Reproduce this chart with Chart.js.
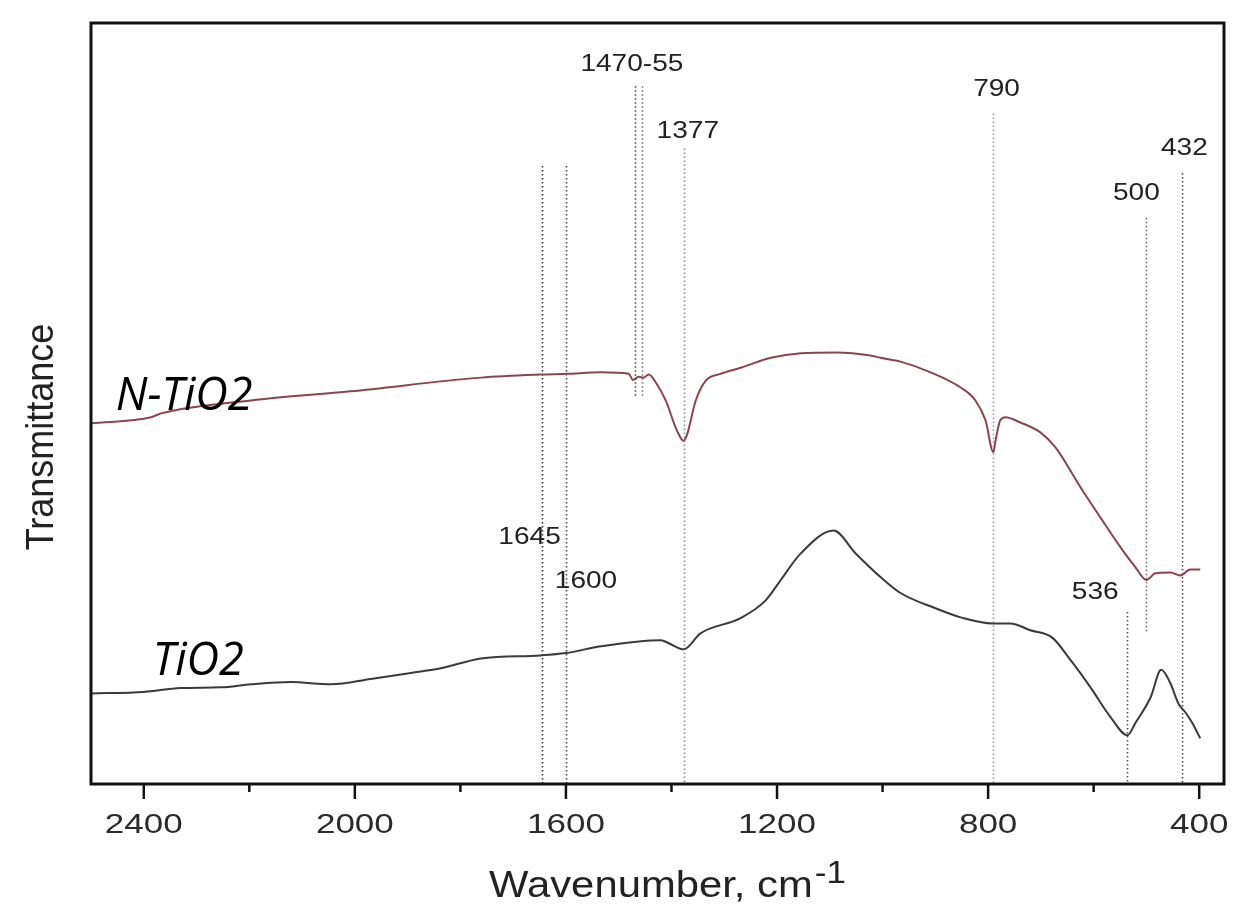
<!DOCTYPE html>
<html>
<head>
<meta charset="utf-8">
<title>FTIR spectra TiO2 / N-TiO2</title>
<script src="https://cdn.jsdelivr.net/npm/chart.js@4.4.1/dist/chart.umd.min.js"></script>
<style>
  html, body { margin: 0; padding: 0; background: #fff; }
  canvas { display: block; }
</style>
</head>
<body>
<canvas id="ftirChart" width="1233" height="906"></canvas>
<script>
//SETUP
// N-TiO2 spectrum (wavenumber, transmittance a.u.)
const nWave = [2500, 2386, 2367, 2197, 2008, 1761, 1648, 1598, 1534, 1481,
  1473, 1462, 1453, 1443, 1430, 1411, 1390, 1377, 1371, 1354,
  1335, 1307, 1269, 1212, 1155, 1089, 1023, 1004, 966, 909,
  852, 824, 805, 790, 786, 777, 767, 739, 701, 672,
  625, 587, 549, 521, 500, 483, 455, 436, 417, 398];
const nValues = [47.4, 48.2, 48.7, 50.4, 51.6, 53.4, 53.8, 53.9, 54.1, 53.9,
  53.1, 53.5, 53.4, 53.8, 52.8, 50.4, 46.5, 45.1, 45.8, 50.4,
  53.0, 53.9, 54.7, 56.0, 56.6, 56.7, 56.3, 56.0, 55.5, 54.1,
  52.1, 50.4, 47.8, 43.6, 45.1, 47.8, 48.2, 47.5, 46.2, 44.2,
  39.0, 35.0, 31.1, 28.5, 26.8, 27.7, 27.8, 27.4, 28.2, 28.2];

// TiO2 spectrum
const tWave = [2500, 2400, 2330, 2254, 2197, 2121, 2045, 1970, 1894, 1837,
  1761, 1648, 1600, 1534, 1420, 1405, 1377, 1345, 1269, 1222,
  1193, 1155, 1093, 1051, 1004, 966, 900, 852, 792, 758,
  720, 678, 644, 606, 568, 536, 521, 492, 472, 455,
  439, 426, 413, 398];
const tValues = [11.9, 12.1, 12.6, 12.7, 13.1, 13.4, 13.1, 13.8, 14.6, 15.2,
  16.5, 16.9, 17.2, 18.1, 18.9, 18.5, 17.7, 19.8, 21.8, 24.1,
  26.8, 30.3, 33.3, 30.3, 27.2, 25.1, 23.1, 21.9, 21.1, 21.1,
  20.2, 19.2, 16.3, 12.7, 8.8, 6.4, 8.0, 11.4, 15.0, 13.3,
  10.5, 9.4, 8.0, 6.0];

// axis ticks
const majorTicks = [2400, 2000, 1600, 1200, 800, 400];
const minorTicks = [2200, 1800, 1400, 1000, 600];

// band markers (dotted verticals)
const peakWave = [1645, 1600, 1470, 1455, 1377, 790, 500, 432, 536];
const peakTop = [81.2, 81.2, 91.7, 91.7, 83.5, 88.1, 74.4, 80.3, 22.6];
const peakBottom = [0, 0, 50.7, 51.0, 0, 0, 19.9, 0, 0];

// band labels
const labelText = ['1470-55', '1377', '790', '432', '500', '1645', '1600', '536'];
const labelWave = [1475, 1369, 784, 428, 519, 1669, 1562, 597];
const labelLevel = [94.5, 85.8, 91.3, 83.5, 77.6, 32.4, 26.6, 25.2];
//SETUP

const peakShade = ['#333', '#444', '#444', '#777', '#888', '#999', '#666', '#444', '#555'];
const SANS = '"Liberation Sans", Arial, sans-serif';

function toPoints(xs, ys) {
  return xs.map((w, i) => ({ x: w, y: ys[i] }));
}

// text squeezed/stretched horizontally
function wideText(ctx, text, x, y, sx, align) {
  ctx.save();
  ctx.translate(x, y);
  ctx.scale(sx, 1);
  ctx.textAlign = align || 'center';
  ctx.fillText(text, 0, 0);
  ctx.restore();
}

// dotted band markers under the curves
const peakLines = {
  id: 'peakLines',
  beforeDatasetsDraw(chart) {
    const ctx = chart.ctx, xs = chart.scales.x, ys = chart.scales.y;
    ctx.save();
    ctx.lineWidth = 1.6;
    ctx.setLineDash([1.5, 2.5]);
    peakWave.forEach((w, i) => {
      const px = Math.round(xs.getPixelForValue(w)) + 0.5;
      ctx.strokeStyle = peakShade[i];
      ctx.beginPath();
      ctx.moveTo(px, ys.getPixelForValue(peakTop[i]));
      ctx.lineTo(px, ys.getPixelForValue(peakBottom[i]));
      ctx.stroke();
    });
    ctx.restore();
  }
};

// frame, ticks, labels and titles
const frameAndText = {
  id: 'frameAndText',
  afterDraw(chart) {
    const ctx = chart.ctx, a = chart.chartArea, xs = chart.scales.x, ys = chart.scales.y;
    ctx.save();

    ctx.strokeStyle = '#111';
    ctx.lineWidth = 3;
    ctx.strokeRect(a.left, a.top, a.right - a.left, a.bottom - a.top);

    ctx.lineWidth = 2.5;
    majorTicks.forEach(t => {
      const px = xs.getPixelForValue(t);
      ctx.beginPath();
      ctx.moveTo(px, a.bottom);
      ctx.lineTo(px, a.bottom + 15);
      ctx.stroke();
    });
    minorTicks.forEach(t => {
      const px = xs.getPixelForValue(t);
      ctx.beginPath();
      ctx.moveTo(px, a.bottom);
      ctx.lineTo(px, a.bottom + 8);
      ctx.stroke();
    });

    // tick labels
    ctx.fillStyle = '#2b2b2b';
    ctx.textBaseline = 'alphabetic';
    ctx.font = '28px ' + SANS;
    majorTicks.forEach(t => {
      wideText(ctx, String(t), xs.getPixelForValue(t), a.bottom + 49, 1.25);
    });

    // band labels
    ctx.fillStyle = '#222';
    ctx.textBaseline = 'middle';
    ctx.font = '24px ' + SANS;
    labelText.forEach((s, i) => {
      wideText(ctx, s, xs.getPixelForValue(labelWave[i]), ys.getPixelForValue(labelLevel[i]), 1.17);
    });

    // x title with superscript
    ctx.fillStyle = '#222';
    ctx.textBaseline = 'alphabetic';
    const main = 'Wavenumber, cm', sup = '-1', sx = 1.13;
    ctx.font = '37px ' + SANS;
    const w1 = ctx.measureText(main).width * sx;
    ctx.font = '31px ' + SANS;
    const w2 = ctx.measureText(sup).width * sx;
    const x0 = (a.left + a.right) / 2 + 9 - (w1 + w2) / 2;
    ctx.font = '37px ' + SANS;
    wideText(ctx, main, x0, a.bottom + 113, sx, 'left');
    ctx.font = '31px ' + SANS;
    wideText(ctx, sup, x0 + w1 + 2, a.bottom + 99, sx, 'left');

    // y title
    ctx.save();
    ctx.translate(42, 437);
    ctx.scale(1.1, 1);
    ctx.rotate(-Math.PI / 2);
    ctx.font = '36px ' + SANS;
    ctx.textAlign = 'center';
    ctx.textBaseline = 'middle';
    ctx.fillText('Transmittance', 0, 0);
    ctx.restore();

    // series names
    ctx.fillStyle = '#000';
    ctx.textBaseline = 'middle';
    ctx.textAlign = 'left';
    ctx.font = 'italic 45px "Open Sans", sans-serif';
    ctx.fillText('N-TiO2', xs.getPixelForValue(2453), ys.getPixelForValue(50.8));
    ctx.fillText('TiO2', xs.getPixelForValue(2383), ys.getPixelForValue(16.0));

    ctx.restore();
  }
};

//CONFIGURE
const config = {
  type: 'line',
  data: {
    datasets: [
      {
        label: 'N-TiO2',
        data: toPoints(nWave, nValues),
        borderColor: '#8a454c',
        borderWidth: 2,
        cubicInterpolationMode: 'monotone',
        pointRadius: 0
      },
      {
        label: 'TiO2',
        data: toPoints(tWave, tValues),
        borderColor: '#3a3a3a',
        borderWidth: 2,
        cubicInterpolationMode: 'monotone',
        pointRadius: 0
      }
    ]
  },
  options: {
    responsive: false,
    animation: false,
    devicePixelRatio: 1,
    layout: { padding: { left: 91, top: 23, right: 9, bottom: 122 } },
    plugins: {
      legend: { display: false },
      tooltip: { enabled: false }
    },
    scales: {
      x: { type: 'linear', reverse: true, min: 353, max: 2500, display: false },
      y: { type: 'linear', min: 0, max: 100, display: false }
    }
  },
  plugins: [peakLines, frameAndText]
};
//CONFIGURE

//IMPLEMENT
const ftirChart = new Chart(document.getElementById('ftirChart'), config);
//IMPLEMENT
</script>
</body>
</html>
